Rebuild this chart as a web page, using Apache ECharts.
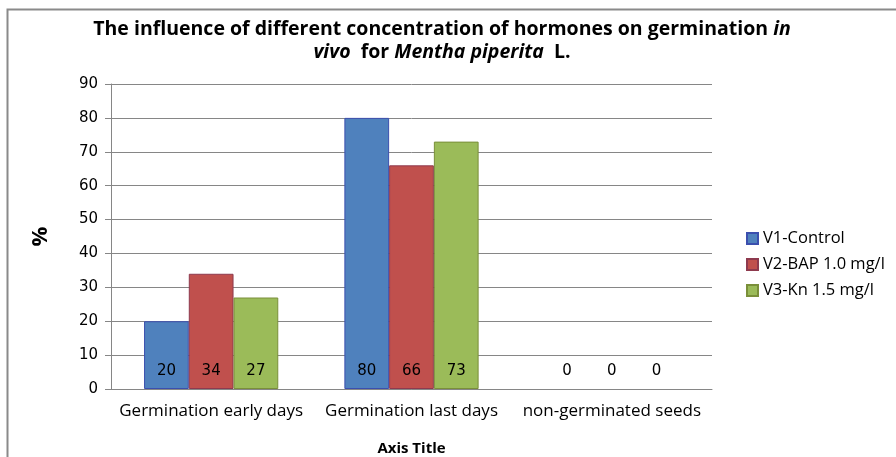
<!DOCTYPE html>
<html><head><meta charset="utf-8">
<script src="https://cdn.jsdelivr.net/npm/echarts@6/dist/echarts.min.js"></script>
<style>html,body{margin:0;padding:0;background:#fff}#c{width:896px;height:457px}</style>
</head><body><div id="c"></div>
<script>
var categories = ['Germination early days', 'Germination last days', 'non-germinated seeds'];
var seriesNames = ['V1-Control', 'V2-BAP 1.0 mg/l', 'V3-Kn 1.5 mg/l'];
var v1 = [20, 80, 0];
var v2 = [34, 66, 0];
var v3 = [27, 73, 0];
var yTicks = [0, 10, 20, 30, 40, 50, 60, 70, 80, 90];
var colors = ['#4F81BD', '#C0504D', '#9BBB59'];
var borders = ['#3B4FAE', '#8E3A4E', '#7A8F3A'];
var seriesData = [v1, v2, v3];

var chart = echarts.init(document.getElementById('c'));
var font = '"Open Sans", Lato, sans-serif';
var series = seriesData.map(function (d, i) {
  return {
    name: seriesNames[i], type: 'bar',
    data: d.map(function (v) { return v === 0 ? { value: v, itemStyle: { borderWidth: 0 } } : v; }),
    barGap: '0%', barCategoryGap: '33%',
    itemStyle: { color: colors[i], borderColor: borders[i], borderWidth: 1 },
    label: { show: true, position: 'insideBottom', distance: 10, color: '#000', fontSize: 15, fontFamily: '"DejaVu Sans", sans-serif' },
    emphasis: { disabled: true }
  };
});
chart.setOption({
  animation: false,
  title: {
    left: 437, top: 13, textAlign: 'center',
    text: '{b|The influence of different concentration of hormones on germination }{bi|in}\n{bi|vivo}{b|  for }{bi|Mentha piperita}{b|  L.}',
    textStyle: {
      rich: {
        b: { fontFamily: font, fontWeight: 'bold', fontSize: 19.5, color: '#000', lineHeight: 23 },
        bi: { fontFamily: font, fontWeight: 'bold', fontStyle: 'italic', fontSize: 19.5, color: '#000', lineHeight: 23 }
      }
    }
  },
  graphic: [{ type: 'rect', shape: { x: 7.5, y: 9.5, width: 1000, height: 600 }, style: { fill: 'none', stroke: '#8a8a8a', lineWidth: 2 }, silent: true }],
  legend: {
    orient: 'vertical', left: 741, top: 225, itemGap: 9,
    itemWidth: 11, itemHeight: 11, icon: 'rect',
    textStyle: { fontFamily: font, fontSize: 16.5, color: '#000' },
    data: seriesNames
  },
  grid: { left: 111, right: 184, top: 84, bottom: 68, outerBoundsMode: 'none', containLabel: false },
  xAxis: {
    type: 'category', data: categories,
    axisLine: { lineStyle: { color: '#868686' } },
    axisTick: { show: false },
    axisLabel: { color: '#000', fontFamily: font, fontSize: 17, margin: 14, interval: 0 },
    name: 'Axis Title', nameLocation: 'middle', nameGap: 52,
    nameTextStyle: { fontFamily: font, fontWeight: 'bold', fontSize: 15, color: '#000' }
  },
  yAxis: {
    type: 'value', min: yTicks[0], max: yTicks[yTicks.length - 1], interval: 10,
    axisLine: { show: true, lineStyle: { color: '#868686' } },
    axisTick: { show: true, length: 6, lineStyle: { color: '#868686' } },
    splitLine: { lineStyle: { color: '#868686' } },
    axisLabel: { color: '#000', fontFamily: '"DejaVu Sans", sans-serif', fontSize: 15, margin: 13 },
    name: '%', nameLocation: 'middle', nameGap: 59, nameRotate: 90,
    nameTextStyle: { fontFamily: font, fontWeight: 'bold', fontSize: 22, color: '#000' }
  },
  series: series
});
</script></body></html>
